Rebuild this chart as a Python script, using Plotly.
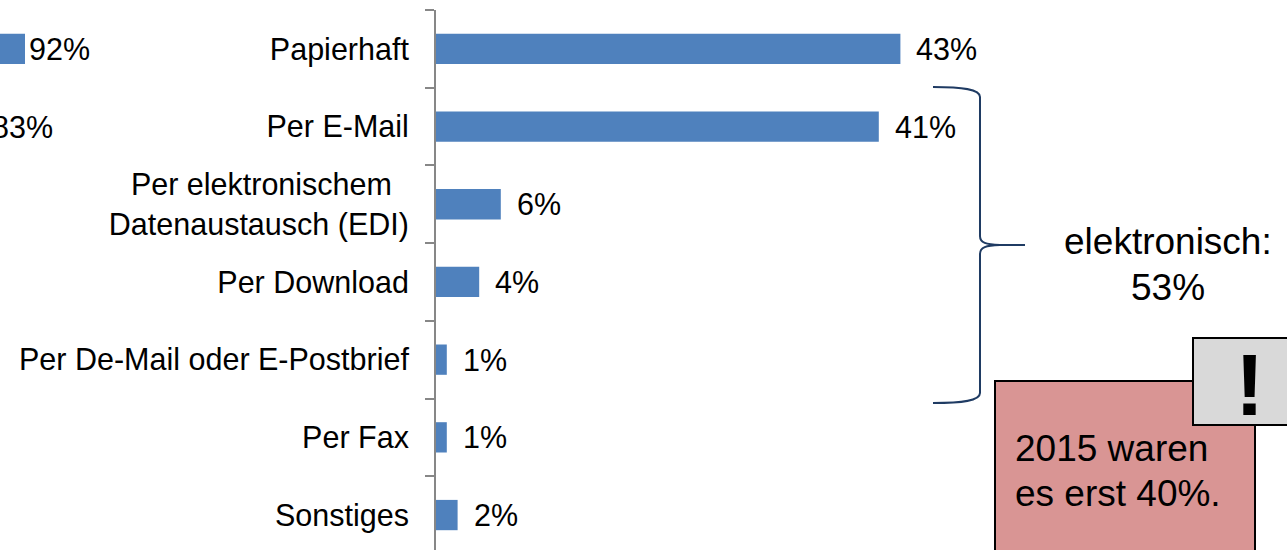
import plotly.graph_objects as go

W, H = 1287, 550
FONT = "Liberation Sans, Arial, sans-serif"

# Main chart: delivery channels
categories = [
    "Papierhaft",
    "Per E-Mail",
    "Per elektronischem\u00a0\u00a0<br>Datenaustausch (EDI)",
    "Per Download",
    "Per De-Mail oder E-Postbrief",
    "Per Fax",
    "Sonstiges",
]
shares = [43, 41, 6, 4, 1, 1, 2]

# Neighbouring panel (only its right end is on the page)
side_rows = [0, 1]
side_values = [92, 83]

BAR_BLUE = "#4F81BD"
AXIS_GREY = "#878787"

# side panel x axis: domain (paper) and value range
SIDE_DOMAIN = [0, 25 / W]
SIDE_RANGE = [86, 92]


def px(x):
    return x / W


def py(y):
    return 1 - y / H


def side_to_paper(v):
    """Position of value v on the side panel's x axis, in paper units."""
    d0, d1 = SIDE_DOMAIN
    r0, r1 = SIDE_RANGE
    return d0 + (v - r0) / (r1 - r0) * (d1 - d0)


fig = go.Figure()

fig.add_trace(go.Bar(
    x=shares, y=categories, orientation="h",
    marker=dict(color=BAR_BLUE, line=dict(width=0)),
    xaxis="x", yaxis="y", hoverinfo="skip", showlegend=False,
))

fig.add_trace(go.Bar(
    x=side_values, y=side_rows, orientation="h",
    marker=dict(color=BAR_BLUE, line=dict(width=0)),
    cliponaxis=False,
    xaxis="x2", yaxis="y2", hoverinfo="skip", showlegend=False,
))

annotations = []
label_font = dict(family=FONT, size=30.5, color="#000")

# value labels for the main bars
for cat, v in zip(categories, shares):
    annotations.append(dict(
        x=v, y=cat, xref="x", yref="y", text=f"{v}%", showarrow=False,
        xanchor="left", yanchor="middle", xshift=14, font=label_font,
    ))

# value labels of the side panel (they run past the page's left edge)
for r, v in zip(side_rows, side_values):
    annotations.append(dict(
        x=side_to_paper(v), y=r, xref="paper", yref="y2", text=f"{v}%",
        showarrow=False, xanchor="left", yanchor="middle", xshift=2,
        font=label_font,
    ))

big = dict(family=FONT, size=37, color="#000")
for txt, yy in [("elektronisch:", 242), ("53%", 287)]:
    annotations.append(dict(x=px(1168), y=py(yy), xref="paper", yref="paper",
                            text=txt, showarrow=False, xanchor="center",
                            yanchor="middle", font=big))
for txt, yy in [("2015 waren", 448), ("es erst 40%.", 493)]:
    annotations.append(dict(x=px(1013), y=py(yy), xref="paper", yref="paper",
                            text=txt, showarrow=False, xanchor="left",
                            yanchor="middle", font=big))
annotations.append(dict(x=px(1249), y=py(384), xref="paper", yref="paper",
                        text="<b>!</b>", showarrow=False, xanchor="center",
                        yanchor="middle",
                        font=dict(family=FONT, size=88, color="#000")))


def path(cmds):
    out = []
    for c in cmds:
        if isinstance(c, str):
            out.append(c)
        else:
            out.append(f"{px(c[0]):.5f},{py(c[1]):.5f}")
    return " ".join(out)


brace = path([
    "M", (933, 87), "C", (962, 87), (980, 89), (980, 97),
    "L", (980, 236), "C", (980, 243), (986, 244.5), (1000, 245),
    "L", (1025, 245),
    "M", (1000, 245), "C", (986, 245.5), (980, 247), (980, 254),
    "L", (980, 393), "C", (980, 401), (962, 403), (933, 403),
])

shapes = [
    dict(type="path", path=brace, xref="paper", yref="paper",
         line=dict(color="#1F3B63", width=2)),
    dict(type="rect", xref="paper", yref="paper",
         x0=px(995), x1=px(1255), y0=py(381), y1=py(570),
         fillcolor="#D99594", line=dict(color="#000", width=2)),
    dict(type="rect", xref="paper", yref="paper",
         x0=px(1193), x1=px(1300), y0=py(338), y1=py(425),
         fillcolor="#D9D9D9", line=dict(color="#000", width=2)),
]

ydom = [0, 1 - 10 / H]
yrange = [-0.5 + 540 / 77.7, -0.5]

fig.update_layout(
    width=W, height=H,
    margin=dict(l=0, r=0, t=0, b=0),
    paper_bgcolor="white", plot_bgcolor="rgba(0,0,0,0)",
    bargap=0.61,
    font=dict(family=FONT, color="#000"),
    xaxis=dict(domain=[436 / W, 1], range=[0, 851 / 10.8],
               visible=False, fixedrange=True),
    yaxis=dict(domain=ydom, range=yrange, type="category",
               showline=True, linecolor=AXIS_GREY, linewidth=2,
               ticks="outside", tickson="boundaries", ticklen=9,
               tickcolor=AXIS_GREY, tickwidth=2,
               ticklabelstandoff=19,
               tickfont=label_font,
               showgrid=False, zeroline=False, anchor="x"),
    xaxis2=dict(domain=SIDE_DOMAIN, range=SIDE_RANGE, visible=False,
                anchor="y2"),
    yaxis2=dict(domain=ydom, range=yrange, visible=False, anchor="x2"),
    annotations=annotations,
    shapes=shapes,
)

fig.write_html("out.html")
